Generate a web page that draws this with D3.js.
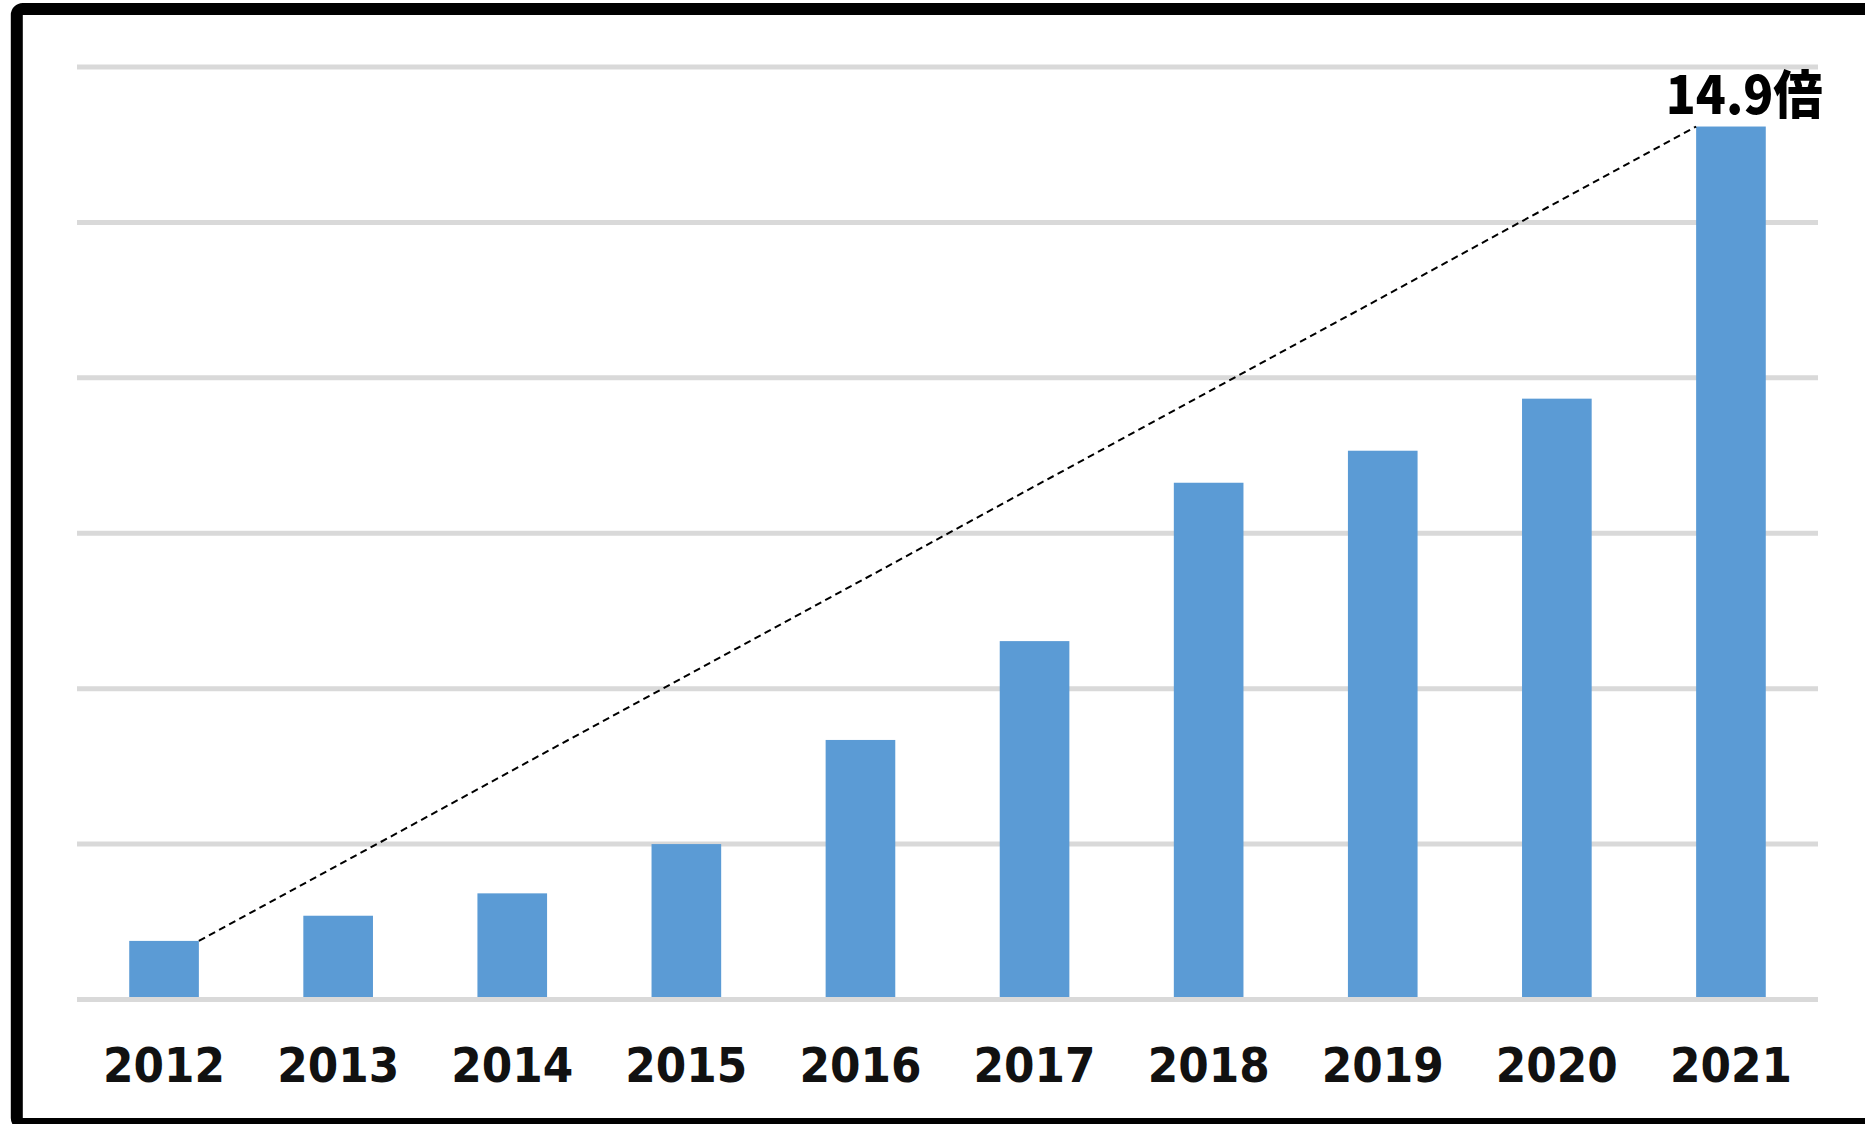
<!DOCTYPE html>
<html>
<head>
<meta charset="utf-8">
<script src="https://cdn.jsdelivr.net/npm/d3@7"></script>
<style>
  html, body { margin: 0; padding: 0; background: #ffffff; }
  svg { display: block; }
</style>
</head>
<body>
<svg id="chart" width="1865" height="1124"></svg>
<script>
// Yearly values (arbitrary units; gridlines every 100)
const years  = ["2012", "2013", "2014", "2015", "2016", "2017", "2018", "2019", "2020", "2021"];
const values = [37.7, 53.9, 68.3, 100.0, 167.0, 230.6, 332.5, 353.1, 386.6, 561.7];
const gridTicks = [0, 100, 200, 300, 400, 500, 600];
const ratioSuffix = "倍";

const svg = d3.select("#chart");

// Plot area
const plot = { left: 77, right: 1818, top: 67, bottom: 999.5 };

const x = d3.scaleBand()
  .domain(years)
  .range([plot.left, plot.right])
  .paddingInner(0.6)
  .paddingOuter(0.3);

const y = d3.scaleLinear()
  .domain([0, d3.max(gridTicks)])
  .range([plot.bottom, plot.top]);

// Horizontal gridlines (drawn behind the bars, except the zero line)
svg.append("g")
  .selectAll("line")
  .data(gridTicks.filter(t => t !== 0))
  .join("line")
  .attr("x1", plot.left)
  .attr("x2", plot.right)
  .attr("y1", d => y(d))
  .attr("y2", d => y(d))
  .attr("stroke", "#d9d9d9")
  .attr("stroke-width", 5);

// Bars
svg.append("g")
  .selectAll("rect")
  .data(years.map((yr, i) => ({ year: yr, value: values[i] })))
  .join("rect")
  .attr("x", d => x(d.year))
  .attr("width", x.bandwidth())
  .attr("y", d => y(d.value))
  .attr("height", d => y(0) - y(d.value))
  .attr("fill", "#5b9bd5");

// Zero line on top of the bar bases
svg.append("line")
  .attr("x1", plot.left)
  .attr("x2", plot.right)
  .attr("y1", y(0))
  .attr("y2", y(0))
  .attr("stroke", "#d9d9d9")
  .attr("stroke-width", 5);

// Category labels
svg.append("g")
  .selectAll("text")
  .data(years)
  .join("text")
  .attr("x", d => x(d) + x.bandwidth() / 2)
  .attr("y", 1081.5)
  .attr("text-anchor", "middle")
  .attr("font-family", "'DejaVu Sans', Verdana, sans-serif")
  .attr("font-weight", "bold")
  .attr("font-size", 48)
  .attr("textLength", 122)
  .attr("lengthAdjust", "spacingAndGlyphs")
  .attr("fill", "#111111")
  .text(d => d);

// Dashed growth line from the first bar's top-right to the last bar's top-left
const first = 0, last = years.length - 1;
svg.append("line")
  .attr("x1", x(years[first]) + x.bandwidth())
  .attr("y1", y(values[first]))
  .attr("x2", x(years[last]))
  .attr("y2", y(values[last]))
  .attr("stroke", "#000000")
  .attr("stroke-width", 2)
  .attr("stroke-dasharray", "7,4.5");

// Growth multiple label
const ratio = values[last] / values[first];
svg.append("text")
  .attr("x", x(years[last]) + x.bandwidth() + 57)
  .attr("y", 113.5)
  .attr("text-anchor", "end")
  .attr("font-family", "'Noto Sans CJK JP', 'Noto Sans', sans-serif")
  .attr("font-weight", 900)
  .attr("font-size", 52)
  .attr("textLength", 157)
  .attr("lengthAdjust", "spacingAndGlyphs")
  .attr("fill", "#000000")
  .text(d3.format(".1f")(ratio) + ratioSuffix);

// Frame around the chart (right and bottom edges run past the canvas)
svg.append("rect")
  .attr("x", 16.8)
  .attr("y", 9)
  .attr("width", 1880)
  .attr("height", 1115)
  .attr("rx", 6)
  .attr("fill", "none")
  .attr("stroke", "#000000")
  .attr("stroke-width", 12);
</script>
</body>
</html>
